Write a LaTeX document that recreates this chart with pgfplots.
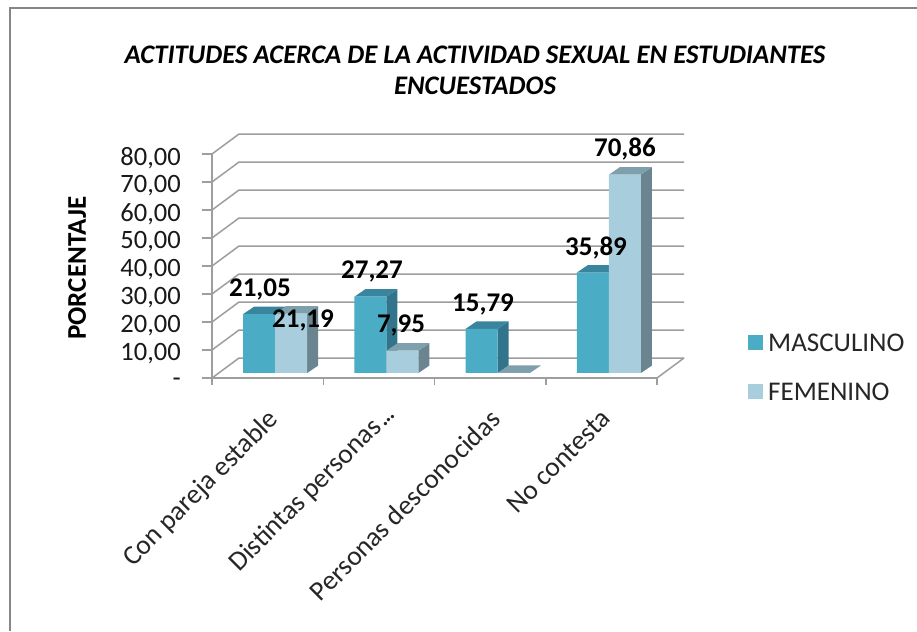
\documentclass[border=0pt]{standalone}
\usepackage{fontspec}
\setmainfont{Carlito}
\usepackage{pgfplots}
\pgfplotsset{compat=1.18}
\definecolor{frameg}{HTML}{868686}
\definecolor{gridg}{HTML}{9E9E9E}
\definecolor{masc}{HTML}{4BACC6}
\definecolor{masctop}{HTML}{3A859E}
\definecolor{mascside}{HTML}{31748C}
\definecolor{fem}{HTML}{A8CEDE}
\definecolor{femtop}{HTML}{7E9FAC}
\definecolor{femside}{HTML}{6A8490}
\newcommand{\fs}[1]{\fontsize{#1}{#1}\selectfont}
% depth faces of one bar: left edge, right edge, value, top colour, side colour
\newcommand{\faces}[5]{%
  \pgfmathsetmacro{\xa}{#1+0.0989}%
  \pgfmathsetmacro{\xb}{#2+0.0989}%
  \pgfmathsetmacro{\vb}{#3+2.68}%
  \addplot[forget plot,draw=none,fill=#5,xshift=7.6pt,yshift=5pt] coordinates {(#2,0) (\xb,2.68) (\xb,\vb) (#2,#3)} -- cycle;
  \addplot[forget plot,draw=none,fill=#4,xshift=7.6pt,yshift=5pt] coordinates {(#1,#3) (\xa,\vb) (\xb,\vb) (#2,#3)} -- cycle;
}
\newcommand{\gridl}[2]{\addplot[forget plot,gridg,line width=1.5pt] coordinates {(0,#1) (0.2427,#2) (4.2427,#2)};}
\begin{document}
\begin{tikzpicture}[x=1pt,y=1pt]
\useasboundingbox (0,0) rectangle (917,631);
\fill[white] (0,0) rectangle (917,631);
\draw[frameg,line width=2.5pt] (10,0) -- (10,623) -- (917,623);
\node[font=\fs{26.8}\bfseries\itshape,align=center,text=black] at (475,560.5) {ACTITUDES ACERCA DE LA ACTIVIDAD SEXUAL EN ESTUDIANTES\\[4pt]ENCUESTADOS};
\begin{axis}[
  at={(212pt,253pt)},anchor=south west,
  scale only axis,width=445pt,height=224pt,
  xmin=0,xmax=4,ymin=0,ymax=80,clip=false,
  axis x line*=bottom,axis y line*=left,
  axis line style={gridg,line width=1.5pt,-},
  xtick={0.5,1.5,2.5,3.5},
  xticklabels={Con pareja estable,{Distintas personas\kern-4pt\ .\kern-2pt.\kern-2pt.\kern-8pt},Personas desconocidas,No contesta},
  minor xtick={0,1,2,3,4},
  major x tick style={draw=none},
  minor x tick style={gridg,line width=1.5pt},
  minor tick length=7pt,
  xticklabel style={font=\fs{27.5},rotate=45,anchor=north east,text=black!85,inner sep=1pt,yshift=-11.5pt,xshift=-13.8pt},
  ytick={0,10,20,30,40,50,60,70,80},
  yticklabels={-\hspace{15pt},{10,00},{20,00},{30,00},{40,00},{50,00},{60,00},{70,00},{80,00}},
  ytick style={gridg,line width=1.5pt},
  tick align=outside,
  major tick length=10pt,
  yticklabel style={font=\fs{26.5},text=black!90,inner sep=2pt,xshift=-19pt,yshift=-4pt},
  ylabel={PORCENTAJE},
  every axis y label/.style={at={(axis description cs:-0.303,0.49)},rotate=90,anchor=center,font=\fs{27}\bfseries},
  legend style={at={(1.2045,0.206)},anchor=north west,draw=none,fill=none,font=\fs{27},row sep=26pt,column sep=3pt,inner sep=0pt,text=black!85},
  legend cell align=left,
  legend image code/.code={\fill[#1,draw=none] (0pt,-11pt) rectangle (15pt,4pt);},
]
\gridl{0}{7.14}
\gridl{10}{17.14}
\gridl{20}{27.14}
\gridl{30}{37.14}
\gridl{40}{47.14}
\gridl{50}{57.14}
\gridl{60}{67.14}
\gridl{70}{77.14}
\gridl{80}{87.14}
\addplot[forget plot,gridg,line width=1.5pt] coordinates {(4,0) (4.2427,7.14)};
% masculino
\faces{0.2124}{0.5}{21.05}{masctop}{mascside}
\faces{1.2124}{1.5}{27.27}{masctop}{mascside}
\faces{2.2124}{2.5}{15.79}{masctop}{mascside}
\faces{3.2124}{3.5}{35.89}{masctop}{mascside}
\addplot[ybar,bar width=32pt,bar shift=-16pt,fill=masc,draw=none,xshift=7.6pt,yshift=5pt]
  coordinates {(0.5,21.05) (1.5,27.27) (2.5,15.79) (3.5,35.89)};
\addlegendentry{MASCULINO}
% femenino
\faces{0.5}{0.7876}{21.19}{femtop}{femside}
\faces{1.5}{1.7876}{7.95}{femtop}{femside}
\faces{2.5}{2.7876}{0}{femtop}{femside}
\faces{3.5}{3.7876}{70.86}{femtop}{femside}
\addplot[ybar,bar width=32pt,bar shift=16pt,fill=fem,draw=none,xshift=7.6pt,yshift=5pt]
  coordinates {(0.5,21.19) (1.5,7.95) (2.5,0) (3.5,70.86)};
\addlegendentry{FEMENINO}
% value labels
\begin{scope}[every node/.style={font=\fs{27}\bfseries,text=black,inner sep=0pt,yshift=-2pt}]
\node at (axis cs:0.431,32.5) {21,05};
\node at (axis cs:0.818,21.1) {21,19};
\node at (axis cs:1.438,38.6) {27,27};
\node at (axis cs:1.699,19.3) {7,95};
\node at (axis cs:2.436,26.8) {15,79};
\node at (axis cs:3.452,47.1) {35,89};
\node at (axis cs:3.712,82.5) {70,86};
\end{scope}
\end{axis}
\end{tikzpicture}
\end{document}
